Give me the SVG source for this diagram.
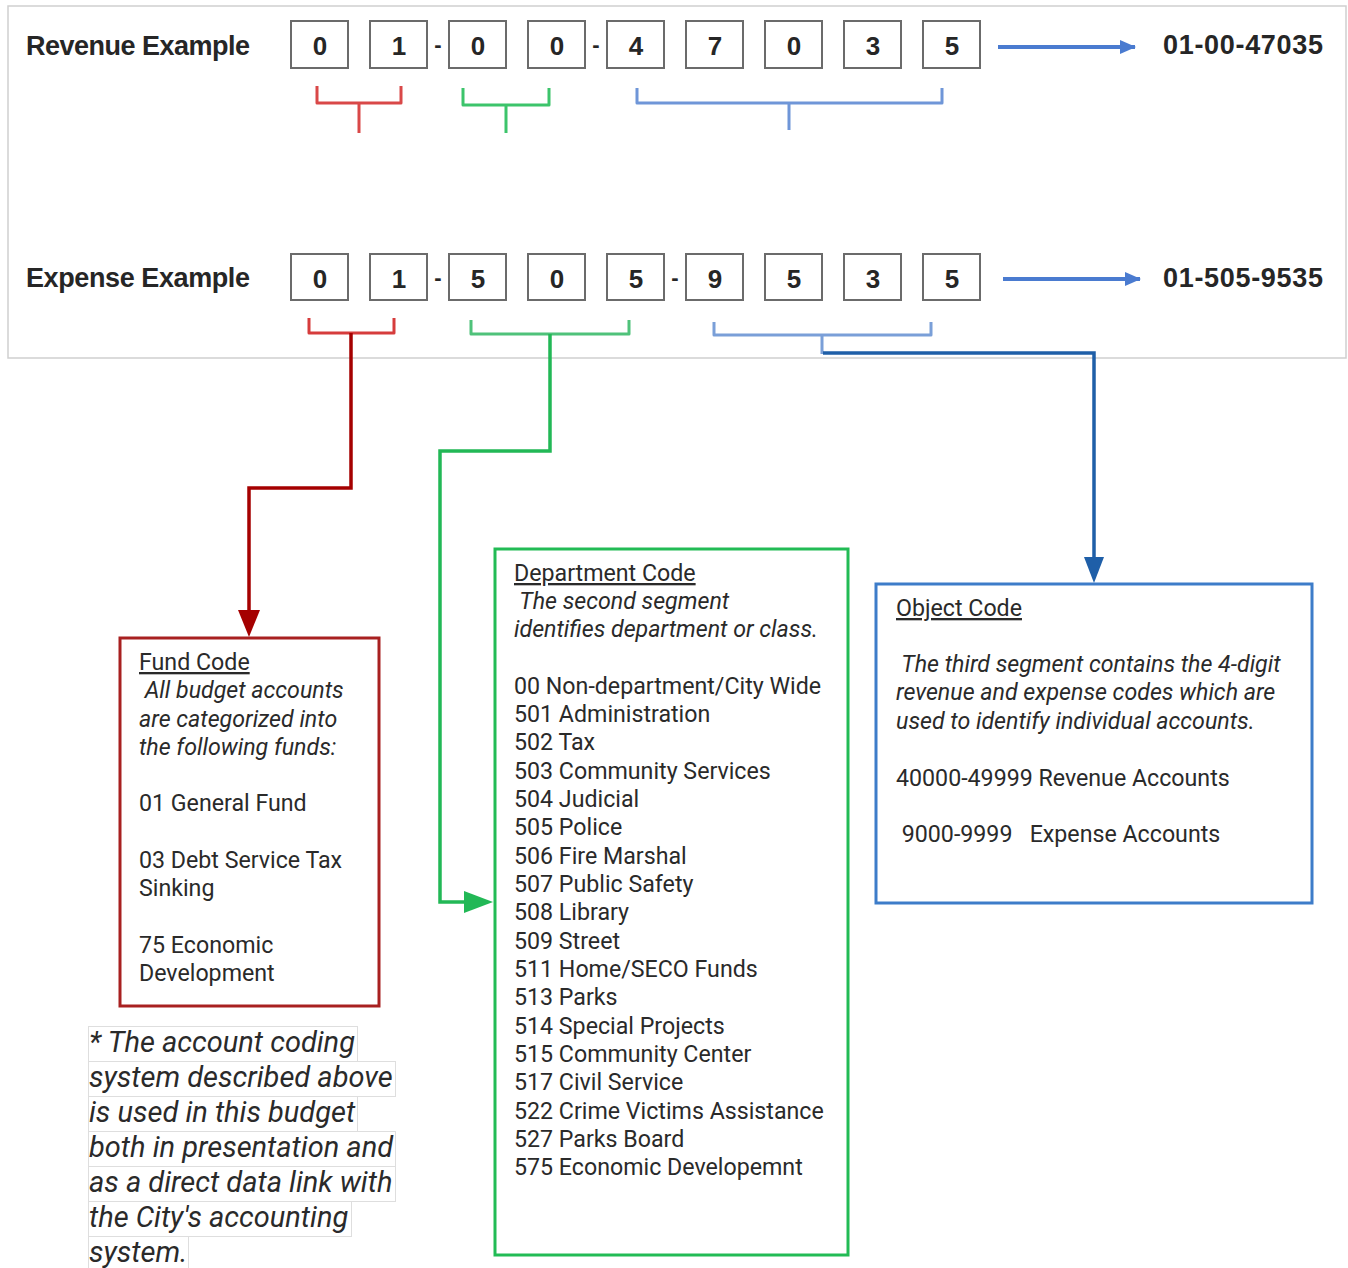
<svg xmlns="http://www.w3.org/2000/svg" width="1348" height="1268" viewBox="0 0 1348 1268">
<defs>
<style>
.hdr{font-family:"Liberation Sans",Arial,sans-serif;font-weight:bold;font-size:27px;fill:#262626}
.dg{font-family:"Liberation Sans",Arial,sans-serif;font-weight:bold;font-size:26px;fill:#262626;text-anchor:middle}
.cell{fill:#fff;stroke:#6b6b6b;stroke-width:2}
.dash{font-family:"Liberation Sans",Arial,sans-serif;font-weight:bold;font-size:22px;fill:#262626;text-anchor:middle}
.body{font-family:Roboto,"Noto Sans",sans-serif;font-size:23.2px;fill:#2a2a2a}
.it{font-style:italic}
.ul{text-decoration:underline}
.foot{font-family:Roboto,"Noto Sans",sans-serif;font-style:italic;font-size:29px;fill:#2a2a2a}
.hl{fill:#fff;stroke:#dedede;stroke-width:1}
.br{fill:none;stroke-width:3;stroke-linejoin:round}
.conn{fill:none;stroke-width:3.5}
</style>
<marker id="aBlue" markerWidth="16" markerHeight="16" refX="15" refY="8" orient="auto" markerUnits="userSpaceOnUse" viewBox="0 0 16 16"><path d="M0,1 L16,8 L0,15 z" fill="#4a7bd0"/></marker>
</defs>
<rect x="8" y="6" width="1338" height="352" fill="#fff" stroke="#cfcfcf" stroke-width="1.5"/>

<g id="revenue-row">
<text class="hdr" x="26" y="55" textLength="224">Revenue Example</text>
<rect class="cell" x="291" y="21" width="57" height="47"/><text class="dg" x="320" y="55">0</text>
<rect class="cell" x="370" y="21" width="57" height="47"/><text class="dg" x="399" y="55">1</text>
<text class="dash" x="438" y="52">-</text>
<rect class="cell" x="449" y="21" width="57" height="47"/><text class="dg" x="478" y="55">0</text>
<rect class="cell" x="528" y="21" width="57" height="47"/><text class="dg" x="557" y="55">0</text>
<text class="dash" x="596" y="52">-</text>
<rect class="cell" x="607" y="21" width="57" height="47"/><text class="dg" x="636" y="55">4</text>
<rect class="cell" x="686" y="21" width="57" height="47"/><text class="dg" x="715" y="55">7</text>
<rect class="cell" x="765" y="21" width="57" height="47"/><text class="dg" x="794" y="55">0</text>
<rect class="cell" x="844" y="21" width="57" height="47"/><text class="dg" x="873" y="55">3</text>
<rect class="cell" x="923" y="21" width="57" height="47"/><text class="dg" x="952" y="55">5</text>
<line x1="998" y1="47" x2="1135" y2="47" stroke="#4a7bd0" stroke-width="4" marker-end="url(#aBlue)"/>
<text class="hdr" x="1163" y="54" textLength="160">01-00-47035</text>
<path class="br" stroke="#d94848" d="M317,86 V103 H401 V86 M359,103 V133"/>
<path class="br" stroke="#3cc46b" d="M463,88 V105 H549 V88 M506,105 V133"/>
<path class="br" stroke="#6f96d8" d="M637,88 V103 H942 V88 M789,103 V130"/>
</g>

<g id="expense-row">
<text class="hdr" x="26" y="287" textLength="224">Expense Example</text>
<rect class="cell" x="291" y="254" width="57" height="46"/><text class="dg" x="320" y="288">0</text>
<rect class="cell" x="370" y="254" width="57" height="46"/><text class="dg" x="399" y="288">1</text>
<text class="dash" x="438" y="285">-</text>
<rect class="cell" x="449" y="254" width="57" height="46"/><text class="dg" x="478" y="288">5</text>
<rect class="cell" x="528" y="254" width="57" height="46"/><text class="dg" x="557" y="288">0</text>
<rect class="cell" x="607" y="254" width="57" height="46"/><text class="dg" x="636" y="288">5</text>
<text class="dash" x="675" y="285">-</text>
<rect class="cell" x="686" y="254" width="57" height="46"/><text class="dg" x="715" y="288">9</text>
<rect class="cell" x="765" y="254" width="57" height="46"/><text class="dg" x="794" y="288">5</text>
<rect class="cell" x="844" y="254" width="57" height="46"/><text class="dg" x="873" y="288">3</text>
<rect class="cell" x="923" y="254" width="57" height="46"/><text class="dg" x="952" y="288">5</text>
<line x1="1003" y1="279" x2="1140" y2="279" stroke="#4a7bd0" stroke-width="4" marker-end="url(#aBlue)"/>
<text class="hdr" x="1163" y="287" textLength="160">01-505-9535</text>
<path class="br" stroke="#d63c3c" d="M309,318 V333 H394 V318"/>
<path class="br" stroke="#4fc27a" d="M471,320 V334 H629 V320"/>
<path class="br" stroke="#7a9fd8" d="M714,322 V335 H931 V322 M822,335 V354"/>
</g>

<g id="connectors">
<path class="conn" stroke="#a50000" d="M351,333 V488 H249 V612"/>
<path d="M238,610 L260,610 L249,637 z" fill="#a50000"/>
<path class="conn" stroke="#22b856" d="M550,334 V451 H440 V902 H466"/>
<path d="M464,891 L493,902 L464,913 z" fill="#22b856"/>
<path class="conn" stroke="#1f5fa8" d="M823,353 H1094 V560"/>
<path d="M1084,557 L1104,557 L1094,583 z" fill="#1f5fa8"/>
</g>

<g id="fund-code">
<rect x="120" y="638" width="259" height="368" fill="#fff" stroke="#a82020" stroke-width="3"/>
<text class="body ul" x="139" y="670">Fund Code</text>
<text class="body it" x="139" y="698" xml:space="preserve"> All budget accounts</text>
<text class="body it" x="139" y="727">are categorized into</text>
<text class="body it" x="139" y="755">the following funds:</text>
<text class="body" x="139" y="811">01 General Fund</text>
<text class="body" x="139" y="868">03 Debt Service Tax</text>
<text class="body" x="139" y="896">Sinking</text>
<text class="body" x="139" y="953">75 Economic</text>
<text class="body" x="139" y="981">Development</text>
</g>

<g id="department-code">
<rect x="495" y="549" width="353" height="706" fill="#fff" stroke="#22bb55" stroke-width="3"/>
<text class="body ul" x="514" y="581">Department Code</text>
<text class="body it" x="514" y="609" xml:space="preserve"> The second segment</text>
<text class="body it" x="514" y="637">identifies department or class.</text>
<text class="body" x="514" y="694">00 Non-department/City Wide</text>
<text class="body" x="514" y="722">501 Administration</text>
<text class="body" x="514" y="750">502 Tax</text>
<text class="body" x="514" y="779">503 Community Services</text>
<text class="body" x="514" y="807">504 Judicial</text>
<text class="body" x="514" y="835">505 Police</text>
<text class="body" x="514" y="864">506 Fire Marshal</text>
<text class="body" x="514" y="892">507 Public Safety</text>
<text class="body" x="514" y="920">508 Library</text>
<text class="body" x="514" y="949">509 Street</text>
<text class="body" x="514" y="977">511 Home/SECO Funds</text>
<text class="body" x="514" y="1005">513 Parks</text>
<text class="body" x="514" y="1034">514 Special Projects</text>
<text class="body" x="514" y="1062">515 Community Center</text>
<text class="body" x="514" y="1090">517 Civil Service</text>
<text class="body" x="514" y="1119">522 Crime Victims Assistance</text>
<text class="body" x="514" y="1147">527 Parks Board</text>
<text class="body" x="514" y="1175">575 Economic Developemnt</text>
</g>

<g id="object-code">
<rect x="876" y="584" width="436" height="319" fill="#fff" stroke="#3d7cc9" stroke-width="3"/>
<text class="body ul" x="896" y="616">Object Code</text>
<text class="body it" x="896" y="672" xml:space="preserve"> The third segment contains the 4-digit</text>
<text class="body it" x="896" y="700">revenue and expense codes which are</text>
<text class="body it" x="896" y="729">used to identify individual accounts.</text>
<text class="body" x="896" y="786">40000-49999 Revenue Accounts</text>
<text class="body" x="896" y="842" xml:space="preserve"> 9000-9999   Expense Accounts</text>
</g>

<g id="footnote">
<rect class="hl" x="88.5" y="1026.5" width="269" height="35"/>
<rect class="hl" x="88.5" y="1061.5" width="307" height="35"/>
<rect class="hl" x="88.5" y="1096.5" width="269" height="35"/>
<rect class="hl" x="88.5" y="1131.5" width="307" height="35"/>
<rect class="hl" x="88.5" y="1166.5" width="307" height="35"/>
<rect class="hl" x="88.5" y="1201.5" width="263" height="35"/>
<rect class="hl" x="88.5" y="1236.5" width="100" height="35"/>
<text class="foot" x="89" y="1052">* The account coding</text>
<text class="foot" x="89" y="1087">system described above</text>
<text class="foot" x="89" y="1122">is used in this budget</text>
<text class="foot" x="89" y="1157">both in presentation and</text>
<text class="foot" x="89" y="1192">as a direct data link with</text>
<text class="foot" x="89" y="1227">the City's accounting</text>
<text class="foot" x="89" y="1262">system.</text>
</g>
</svg>
